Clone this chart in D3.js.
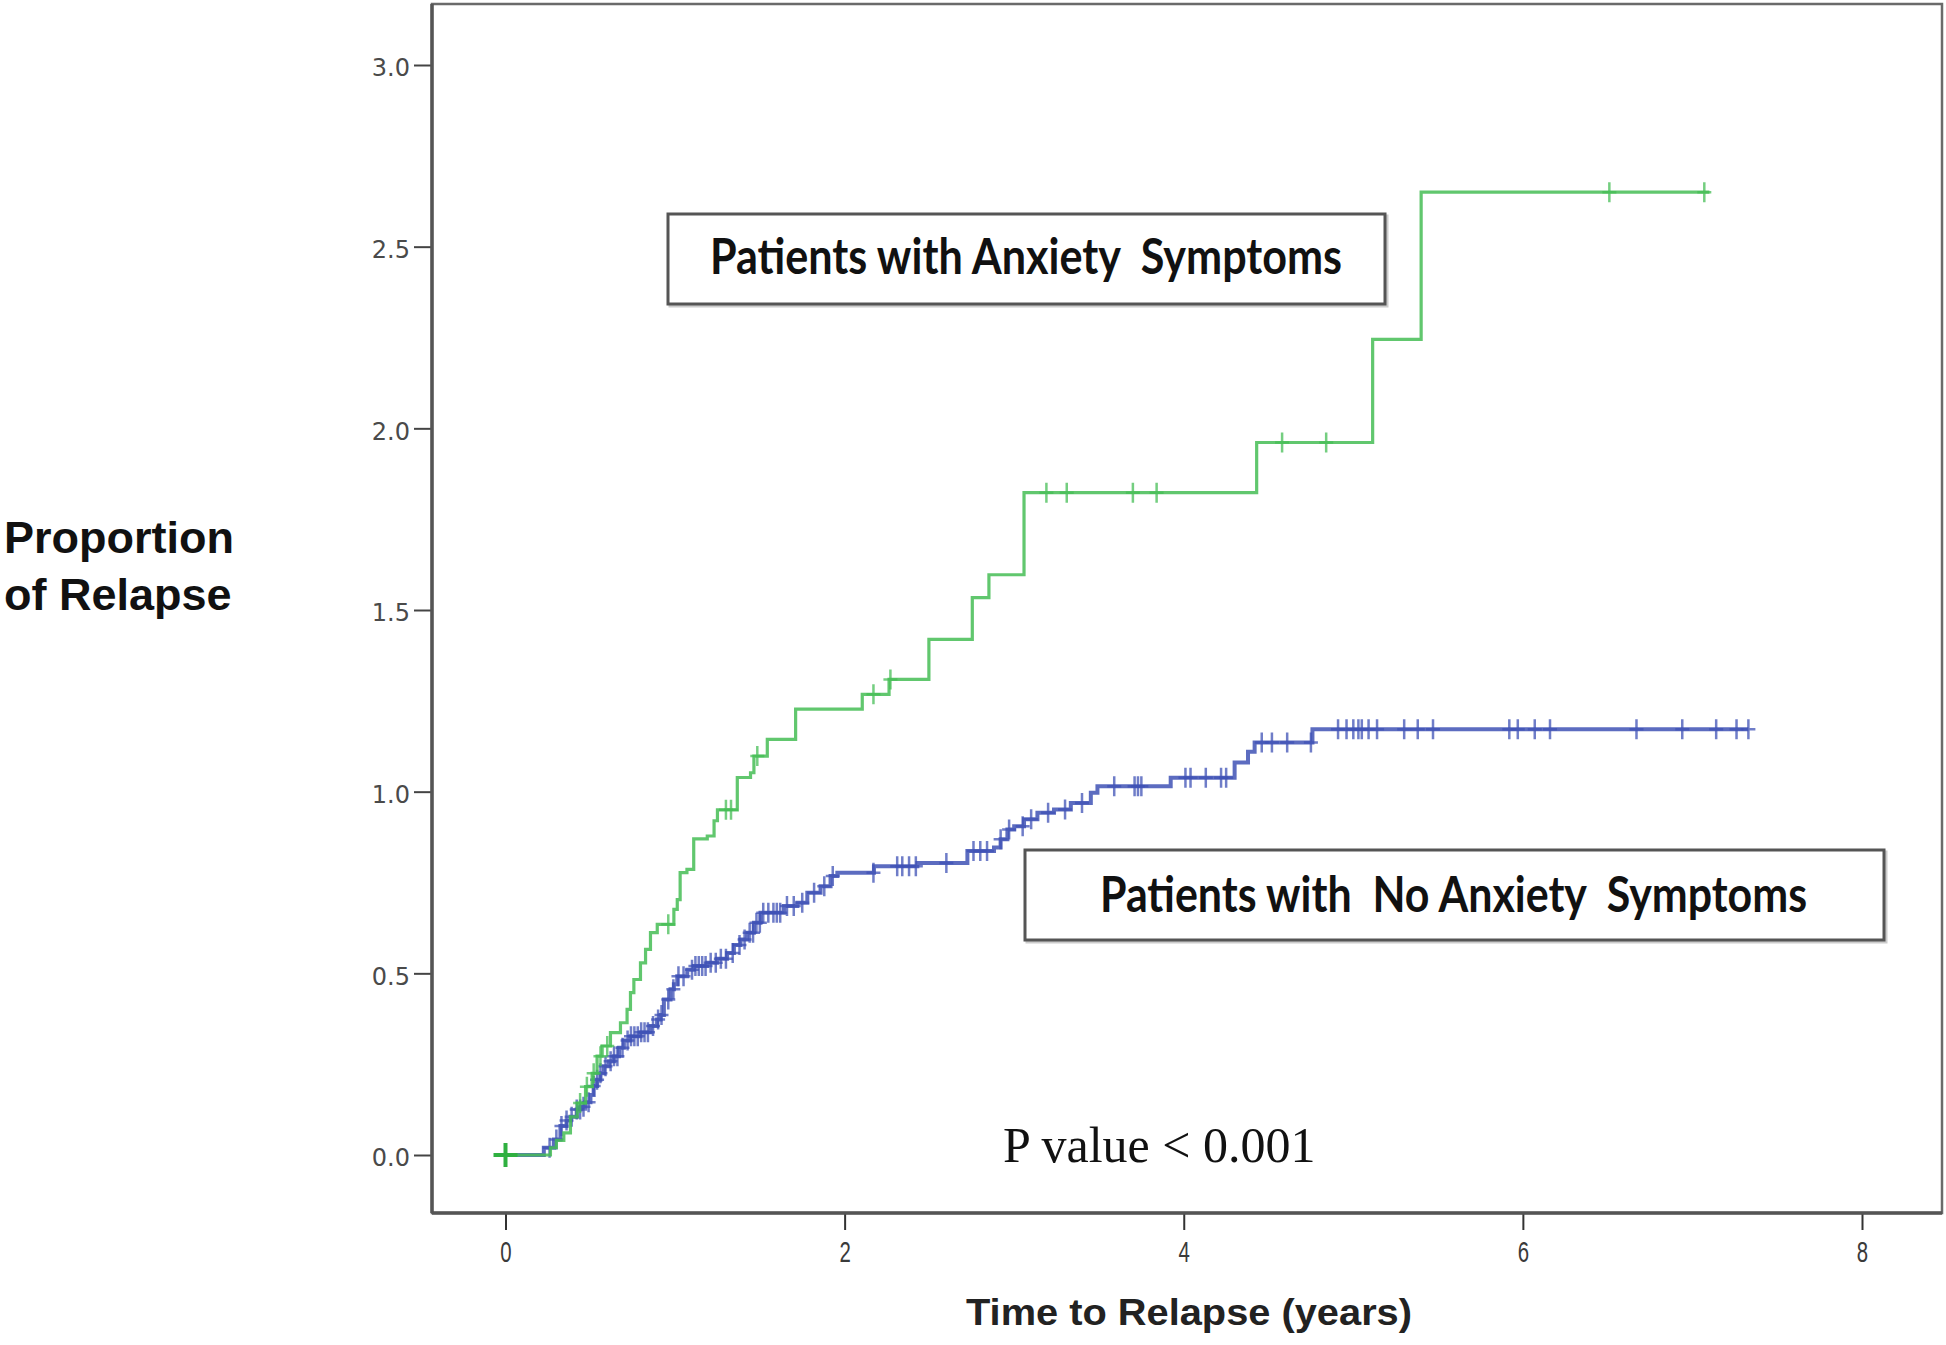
<!DOCTYPE html>
<html>
<head>
<meta charset="utf-8">
<script src="https://cdn.jsdelivr.net/npm/d3@7"></script>
<style>
  html, body { margin: 0; padding: 0; background: #fff; }
  svg { display: block; }
</style>
</head>
<body>
<svg id="chart" width="1946" height="1345"></svg>
<script>
// ---------- DATA ----------
const xTicks = [0, 2, 4, 6, 8];
const yTicks = [0, 0.5, 1.0, 1.5, 2.0, 2.5, 3.0];

// Patients with Anxiety Symptoms (green) : [time, cumulative proportion]
const anxietySteps = [
  [0,0],[0.265,0.02],[0.30,0.04],[0.344,0.061],[0.383,0.105],[0.423,0.143],[0.472,0.188],
  [0.511,0.225],[0.54,0.272],[0.57,0.30],[0.619,0.337],[0.678,0.364],[0.717,0.401],
  [0.737,0.447],[0.757,0.483],[0.796,0.529],[0.826,0.566],[0.855,0.612],[0.895,0.635],
  [0.993,0.676],[1.013,0.703],[1.03,0.777],[1.07,0.786],[1.11,0.87],[1.19,0.878],
  [1.23,0.92],[1.25,0.95],[1.367,1.039],[1.445,1.052],[1.465,1.098],[1.544,1.144],
  [1.711,1.227],[2.104,1.268],[2.262,1.309],[2.497,1.419],[2.753,1.534],[2.851,1.597],
  [3.058,1.823],[4.43,1.961],[5.114,2.245],[5.40,2.65]
];
const anxietyEnd = 7.10;
const anxietyCensored = [0.44,0.48,0.52,0.56,0.60,0.96,1.30,1.33,1.485,2.17,2.27,
  3.19,3.31,3.70,3.84,4.58,4.84,6.51,7.07];
const anxietyOrigin = [0];

// Patients with No Anxiety Symptoms (blue)
const noAnxietySteps = [
  [0,0],[0.226,0.02],[0.285,0.043],[0.324,0.08],[0.36,0.095],[0.383,0.105],[0.42,0.125],
  [0.442,0.133],[0.47,0.145],[0.501,0.165],[0.52,0.19],[0.54,0.207],[0.56,0.225],
  [0.58,0.244],[0.61,0.258],[0.639,0.272],[0.67,0.295],[0.698,0.315],[0.737,0.327],
  [0.796,0.338],[0.855,0.355],[0.894,0.373],[0.914,0.385],[0.934,0.428],[0.973,0.456],
  [0.993,0.47],[1.013,0.492],[1.072,0.51],[1.111,0.52],[1.19,0.529],[1.248,0.54],
  [1.307,0.556],[1.347,0.578],[1.386,0.593],[1.426,0.612],[1.465,0.639],[1.504,0.667],
  [1.642,0.685],[1.721,0.694],[1.78,0.722],[1.858,0.74],[1.917,0.768],[1.957,0.777],
  [2.173,0.795],[2.429,0.804],[2.724,0.837],[2.881,0.846],[2.92,0.869],[2.96,0.896],
  [3.0,0.905],[3.058,0.924],[3.137,0.942],[3.235,0.951],[3.334,0.969],[3.452,0.997],
  [3.491,1.015],[3.923,1.038],[4.30,1.08],[4.379,1.11],[4.418,1.135],[4.759,1.172]
];
const noAnxietyEnd = 7.33;
const noAnxietyCensored = [0.26,0.30,0.33,0.36,0.39,0.42,0.44,0.46,0.49,0.52,0.54,0.56,
  0.59,0.62,0.64,0.66,0.69,0.72,0.74,0.76,0.78,0.80,0.82,0.84,0.87,0.90,0.92,0.96,0.99,
  1.02,1.05,1.10,1.12,1.14,1.16,1.18,1.21,1.24,1.27,1.30,1.34,1.38,1.41,1.44,1.46,1.48,
  1.50,1.52,1.55,1.58,1.60,1.62,1.66,1.70,1.75,1.82,1.88,1.93,
  2.17,2.31,2.34,2.38,2.42,2.60,2.76,2.80,2.84,2.92,2.97,3.05,3.10,3.20,3.30,3.40,3.59,
  3.71,3.73,3.75,4.01,4.04,4.13,4.22,4.25,4.46,4.52,4.61,4.75,4.91,4.96,5.00,5.03,5.05,
  5.09,5.14,5.30,5.38,5.47,5.92,5.97,6.07,6.16,6.67,6.94,7.14,7.26,7.33];

const legendAnxiety = "Patients with Anxiety  Symptoms";
const legendNoAnxiety = "Patients with  No Anxiety  Symptoms";
const pValueText = "P value < 0.001";
const xTitle = "Time to Relapse (years)";
const yTitleLines = ["Proportion", "of Relapse"];

// ---------- LAYOUT ----------
const svg = d3.select("#chart");
const frame = {left: 432, top: 4, right: 1942, bottom: 1213};
const x = d3.scaleLinear().domain([0, 8]).range([505.5, 1862]);
const y = d3.scaleLinear().domain([0, 3]).range([1155, 65]);

svg.append("rect").attr("width", 1946).attr("height", 1345).attr("fill", "#fff");

// frame
svg.append("rect")
  .attr("x", frame.left).attr("y", frame.top)
  .attr("width", frame.right - frame.left).attr("height", frame.bottom - frame.top)
  .attr("fill", "none").attr("stroke", "#6a6a6a").attr("stroke-width", 2.5);

// Y axis
const yAxis = svg.append("g")
  .attr("transform", `translate(${frame.left},0)`)
  .call(d3.axisLeft(y).tickValues(yTicks).tickFormat(d3.format(".1f")).tickSize(18).tickPadding(4));
yAxis.select(".domain").remove();
yAxis.selectAll(".tick line").attr("stroke", "#444").attr("stroke-width", 2);
yAxis.selectAll(".tick text")
  .attr("font-family", "DejaVu Sans").attr("font-size", 24).attr("fill", "#4a4a4a")
  .attr("dy", "0.45em").attr("x", -22);
svg.append("line").attr("x1", frame.left).attr("x2", frame.left)
  .attr("y1", frame.top).attr("y2", frame.bottom)
  .attr("stroke", "#555").attr("stroke-width", 3.5);

// X axis
const xAxis = svg.append("g")
  .attr("transform", `translate(0,${frame.bottom})`)
  .call(d3.axisBottom(x).tickValues(xTicks).tickFormat(d3.format("d")).tickSize(17).tickPadding(10));
xAxis.select(".domain").remove();
xAxis.selectAll(".tick line").attr("stroke", "#333").attr("stroke-width", 2);
xAxis.selectAll(".tick text")
  .attr("font-family", "Liberation Sans").attr("font-size", 30).attr("fill", "#3a3a3a")
  .attr("transform", "scale(0.68,1)")
  .attr("dy", "0.72em");
svg.append("line").attr("x1", frame.left).attr("x2", frame.right)
  .attr("y1", frame.bottom).attr("y2", frame.bottom)
  .attr("stroke", "#555").attr("stroke-width", 3.5);

// titles
svg.append("text").attr("x", 1189).attr("y", 1325)
  .attr("text-anchor", "middle")
  .attr("font-family", "Liberation Sans").attr("font-weight", "bold").attr("font-size", 37)
  .attr("fill", "#222")
  .attr("textLength", 446).attr("lengthAdjust", "spacingAndGlyphs")
  .text(xTitle);

svg.selectAll("text.ytitle").data(yTitleLines).enter().append("text")
  .attr("class", "ytitle")
  .attr("x", 4).attr("y", (d, i) => 553 + i * 57)
  .attr("font-family", "Liberation Sans").attr("font-weight", "bold").attr("font-size", 45)
  .attr("fill", "#111")
  .text(d => d);

// ---------- CURVES ----------
function stepValue(steps, t) {
  let v = steps[0][1];
  for (const s of steps) { if (s[0] <= t + 1e-9) v = s[1]; else break; }
  return v;
}
const line = d3.line().x(d => x(d[0])).y(d => y(d[1])).curve(d3.curveStepAfter);

function drawSeries(steps, end, censored, color, width) {
  const pts = steps.concat([[end, steps[steps.length - 1][1]]]);
  svg.append("path").datum(pts)
    .attr("d", line).attr("fill", "none")
    .attr("stroke", color).attr("stroke-width", width)
    .attr("stroke-opacity", 0.85).attr("stroke-linejoin", "miter");
  svg.append("g").selectAll("path").data(censored).enter().append("path")
    .attr("d", t => {
      const cx = x(t), cy = y(stepValue(steps, t));
      return `M${cx - 7},${cy}H${cx + 7}M${cx},${cy - 10}V${cy + 10}`;
    })
    .attr("stroke", color).attr("stroke-width", 2.5).attr("stroke-opacity", 0.75).attr("fill", "none");
}

drawSeries(noAnxietySteps, noAnxietyEnd, noAnxietyCensored, "#3f52b5", 4);
drawSeries(anxietySteps, anxietyEnd, anxietyCensored, "#45bd55", 3.2);

// big origin marker
svg.append("g").selectAll("path").data(anxietyOrigin).enter().append("path")
  .attr("d", t => {
    const cx = x(t), cy = y(0);
    return `M${cx - 12},${cy}H${cx + 12}M${cx},${cy - 12}V${cy + 12}`;
  })
  .attr("stroke", "#2fb040").attr("stroke-width", 4).attr("fill", "none");

// ---------- LEGEND BOXES ----------
function legendBox(bx, by, bw, bh, tx, ty, tl, label) {
  svg.append("rect").attr("x", bx + 2).attr("y", by + 2).attr("width", bw).attr("height", bh)
    .attr("fill", "none").attr("stroke", "#ccc").attr("stroke-width", 3);
  svg.append("rect").attr("x", bx).attr("y", by).attr("width", bw).attr("height", bh)
    .attr("fill", "#fff").attr("stroke", "#555").attr("stroke-width", 3);
  svg.append("text").attr("x", tx).attr("y", ty)
    .attr("font-family", "Lato").attr("font-weight", "bold").attr("font-size", 50)
    .attr("fill", "#111").style("white-space", "pre")
    .attr("textLength", tl).attr("lengthAdjust", "spacingAndGlyphs")
    .text(label);
}
legendBox(668, 214, 717, 90, 710, 274, 632, legendAnxiety);
legendBox(1025, 850, 859, 90, 1100, 912, 707, legendNoAnxiety);

// P value
svg.append("text").attr("x", 1003).attr("y", 1162)
  .attr("font-family", "Liberation Serif").attr("font-size", 50).attr("fill", "#111")
  .text(pValueText);
</script>
</body>
</html>
